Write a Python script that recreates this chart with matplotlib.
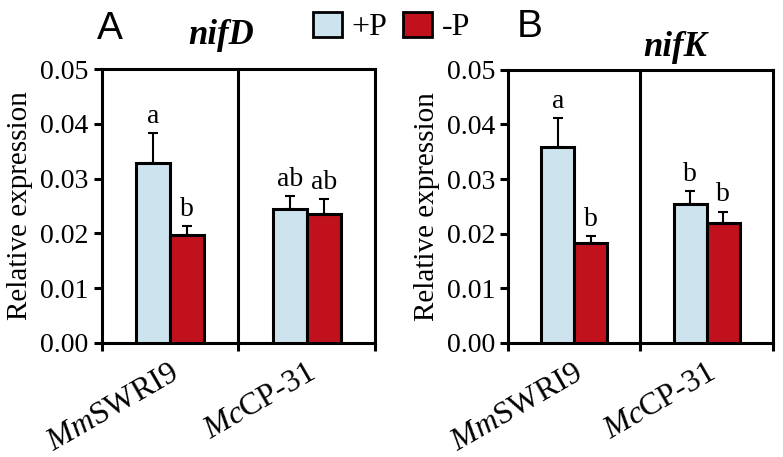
import matplotlib.pyplot as plt
from matplotlib.patches import Patch

plt.rcParams['font.family'] = 'Liberation Serif'
plt.rcParams['mathtext.fontset'] = 'custom'
plt.rcParams['mathtext.rm'] = 'Liberation Serif'
plt.rcParams['mathtext.it'] = 'Liberation Serif:italic'

strains = [r'$\mathit{Mm}$SWRI9', r'$\mathit{Mc}$CP-31']
genes = ['nifD', 'nifK']
panels = ['A', 'B']

plus_p = [[0.0329, 0.0244], [0.0358, 0.0255]]
plus_err = [[0.0054, 0.0024], [0.0053, 0.0023]]
minus_p = [[0.0197, 0.0235], [0.0182, 0.0219]]
minus_err = [[0.0016, 0.0027], [0.0013, 0.0021]]
plus_letters = [['a', 'ab'], ['a', 'b']]
minus_letters = [['b', 'ab'], ['b', 'b']]

blue = '#cde4ef'
red = '#c1111d'
lw = 2.2

fig = plt.figure(figsize=(7.83, 4.57), dpi=100)
boxes = [[0.130, 0.250, 0.349, 0.599], [0.649, 0.250, 0.338, 0.597]]
title_pos = [(0.282, 0.923), (0.862, 0.897)]
panel_pos = [(0.124, 0.975), (0.660, 0.980)]
w = 0.25

for k in range(2):
    ax = fig.add_axes(boxes[k])
    x = [0, 1]
    xp = [i - w / 2 for i in x]
    xm = [i + w / 2 for i in x]
    ax.bar(xp, plus_p[k], width=w, color=blue, edgecolor='black', linewidth=lw, zorder=3)
    ax.bar(xm, minus_p[k], width=w, color=red, edgecolor='black', linewidth=lw, zorder=3)
    ax.errorbar(xp, plus_p[k], yerr=[[0, 0], plus_err[k]], fmt='none', ecolor='black',
                elinewidth=1.5, capsize=3.5, capthick=1.5, zorder=2)
    ax.errorbar(xm, minus_p[k], yerr=[[0, 0], minus_err[k]], fmt='none', ecolor='black',
                elinewidth=1.5, capsize=3.5, capthick=1.5, zorder=2)
    for i in range(2):
        ax.text(xp[i], plus_p[k][i] + plus_err[k][i] + 0.0008, plus_letters[k][i],
                ha='center', va='bottom', fontsize=20)
        ax.text(xm[i], minus_p[k][i] + minus_err[k][i] + 0.0008, minus_letters[k][i],
                ha='center', va='bottom', fontsize=20)
    ax.axvline(0.5, color='black', linewidth=lw)
    ax.set_xlim(-0.5, 1.5)
    ax.set_ylim(0, 0.05)
    ax.set_yticks([0, 0.01, 0.02, 0.03, 0.04, 0.05])
    ax.set_yticklabels(['0.00', '0.01', '0.02', '0.03', '0.04', '0.05'])
    ax.set_xticks([-0.5, 0.5, 1.5])
    ax.set_xticklabels([])
    for i in range(2):
        ax.text(x[i] - 0.01, -0.003, strains[i], rotation=30, rotation_mode='anchor',
                ha='right', va='top', fontsize=23)
    ax.tick_params(axis='both', labelsize=20, width=lw, length=6, direction='out')
    for s in ax.spines.values():
        s.set_linewidth(lw)
    ax.set_ylabel('Relative expression', fontsize=21, labelpad=5)
    fig.text(*title_pos[k], genes[k], fontsize=25, fontweight='bold', style='italic',
             ha='center', va='center')
    fig.text(*panel_pos[k], panels[k], family='Liberation Sans', fontsize=28, va='top')

handles = [Patch(facecolor=blue, edgecolor='black', linewidth=2),
           Patch(facecolor=red, edgecolor='black', linewidth=2)]
fig.legend(handles, ['+P', '-P'], ncol=2, loc='center', bbox_to_anchor=(0.500, 0.941),
           frameon=False, fontsize=23, handlelength=0.9, handleheight=0.85,
           handletextpad=0.3, columnspacing=0.5, borderpad=0)

fig.savefig('out.png', dpi=100)
